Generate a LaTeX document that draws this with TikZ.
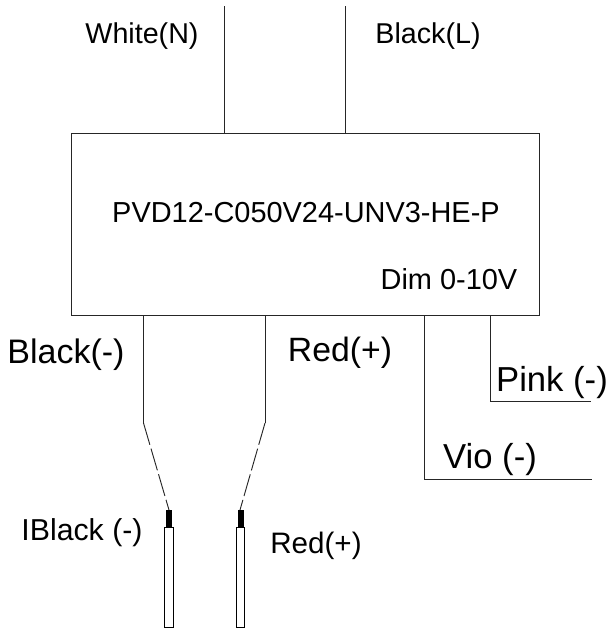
\documentclass[tikz,border=0pt]{standalone}
\usepackage{fontspec}
\setmainfont{Liberation Sans}
\begin{document}
\begin{tikzpicture}[x=0.75pt,y=-0.75pt,
  wire/.style={draw=black!85,line width=0.7pt},
  tip/.style={draw=black,line width=0.7pt,fill=white},
  lbl/.style={inner sep=0pt,anchor=center,text=black}]
\useasboundingbox (0,0) rectangle (609,628);
\node[draw=black!85,line width=0.7pt,minimum width=467.5*0.75pt,minimum height=182.5*0.75pt,inner sep=0pt] (box) at (305.5,224.5) {};
\coordinate (w1) at (224,6); \coordinate (w1b) at (224,133);
\coordinate (w2) at (345.5,6); \coordinate (w2b) at (345.5,133);
\draw[wire] (w1) -- (w1b);
\draw[wire] (w2) -- (w2b);
\coordinate (a0) at (143.5,316); \coordinate (a1) at (143.5,423);
\coordinate (a2) at (169,510); \coordinate (b0) at (265,316);
\coordinate (b1) at (265,423); \coordinate (b2) at (240,510);
\draw[wire] (a0) -- (a1);
\draw[wire] (b0) -- (b1);
\draw[wire,dash pattern=on 17pt off 3pt] (a1) -- (a2);
\draw[wire,dash pattern=on 17pt off 3pt] (b1) -- (b2);
\coordinate (v0) at (424,316); \coordinate (v1) at (424,479); \coordinate (v2) at (592,479);
\coordinate (p0) at (490.5,316); \coordinate (p1) at (490.5,401.5); \coordinate (p2) at (591,401.5);
\draw[wire] (v0) -- (v1) -- (v2);
\draw[wire] (p0) -- (p1) -- (p2);
\fill (166,510) rectangle (172,527);
\fill (237.5,510) rectangle (244,527);
\draw[tip] (164.5,527) rectangle (173,627);
\draw[tip] (236,527) rectangle (244.5,627);
\node[lbl] (t1) at (142,36) {\fontsize{21.5}{24}\selectfont White(N)};
\node[lbl] (t2) at (428,36) {\fontsize{21.5}{24}\selectfont Black(L)};
\node[lbl] (t3) at (306,213) {\fontsize{21.7}{24}\selectfont PVD12-C050V24-UNV3-HE-P};
\node[lbl] (t4) at (449,279) {\fontsize{21.7}{24}\selectfont Dim 0-10V};
\node[lbl] (t5) at (66,355) {\fontsize{25.5}{28}\selectfont Black(-)};
\node[lbl] (t6) at (340,353) {\fontsize{25.3}{28}\selectfont Red(+)};
\node[lbl] (t7) at (552,383) {\fontsize{26}{28}\selectfont Pink (-)};
\node[lbl] (t8) at (490,460) {\fontsize{26}{28}\selectfont Vio (-)};
\node[lbl] (t9) at (82,533) {\fontsize{22.7}{25}\selectfont IBlack (-)};
\node[lbl] (t10) at (316,546) {\fontsize{22.2}{25}\selectfont Red(+)};
\end{tikzpicture}
\end{document}
